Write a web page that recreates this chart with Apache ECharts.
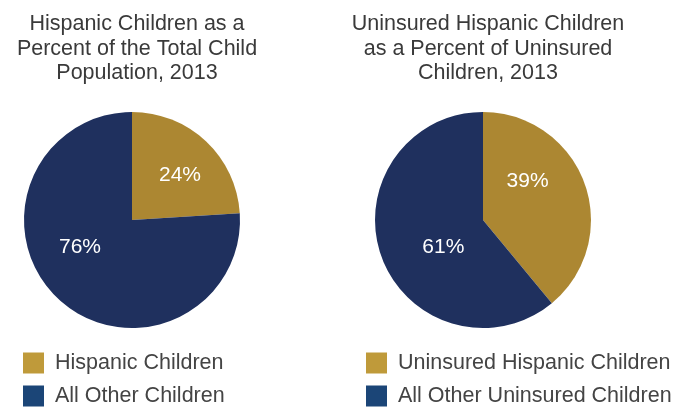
<!DOCTYPE html>
<html><head><meta charset="utf-8">
<script src="https://cdn.jsdelivr.net/npm/echarts@6/dist/echarts.min.js"></script>
<style>html,body{margin:0;padding:0;background:#fff}#c{width:673px;height:408px}</style>
</head><body><div id="c"></div>
<script>
const titles = [
  "Hispanic Children as a\nPercent of the Total Child\nPopulation, 2013",
  "Uninsured Hispanic Children\nas a Percent of Uninsured\nChildren, 2013"
];
const categories1 = ["Hispanic Children", "All Other Children"];
const values1 = [24, 76];
const categories2 = ["Uninsured Hispanic Children", "All Other Uninsured Children"];
const values2 = [39, 61];

const pieColors = ["#AC8732", "#1F305E"];
const legendColors = ["#BF9A3A", "#1B4577"];
const labelShift1 = [[9, -3], [-13, -14]];
const labelShift2 = [[-9, -19], [14, 8]];
const FONT = "Liberation Sans";

function pieSeries(cats, vals, cx, shifts) {
  return {
    type: "pie",
    center: [cx, 220],
    radius: 108,
    startAngle: 90,
    clockwise: true,
    silent: true,
    data: cats.map((c, i) => ({ name: c, value: vals[i], itemStyle: { color: pieColors[i] } })),
    label: { show: true, position: "inside", formatter: p => p.value + "%", color: "#fff", fontSize: 21, fontFamily: FONT },
    labelLine: { show: false },
    labelLayout: p => ({ dx: shifts[p.dataIndex][0], dy: shifts[p.dataIndex][1] }),
    itemStyle: { borderWidth: 0 }
  };
}
function legend(cats, left) {
  return {
    orient: "vertical", left: left, top: 352, height: 60, padding: 0, itemWidth: 21, itemHeight: 21, itemGap: 11,
    icon: "rect", selectedMode: false,
    textStyle: { fontSize: 21.5, color: "#444", fontFamily: FONT, padding: [0, 0, 0, 6] },
    data: cats.map((c, i) => ({ name: c, itemStyle: { color: legendColors[i] } }))
  };
}
const titleStyle = { fontSize: 21.5, fontWeight: "normal", color: "#3a3a3a", fontFamily: FONT, lineHeight: 24.5 };
const chart = echarts.init(document.getElementById("c"), null, { renderer: "canvas" });
chart.setOption({
  animation: false,
  title: [
    { text: titles[0], left: 132, top: 7, textAlign: "center", textStyle: titleStyle },
    { text: titles[1], left: 483, top: 7, textAlign: "center", textStyle: titleStyle }
  ],
  legend: [legend(categories1, 23), legend(categories2, 366)],
  series: [pieSeries(categories1, values1, 132, labelShift1), pieSeries(categories2, values2, 483, labelShift2)]
});
</script></body></html>
